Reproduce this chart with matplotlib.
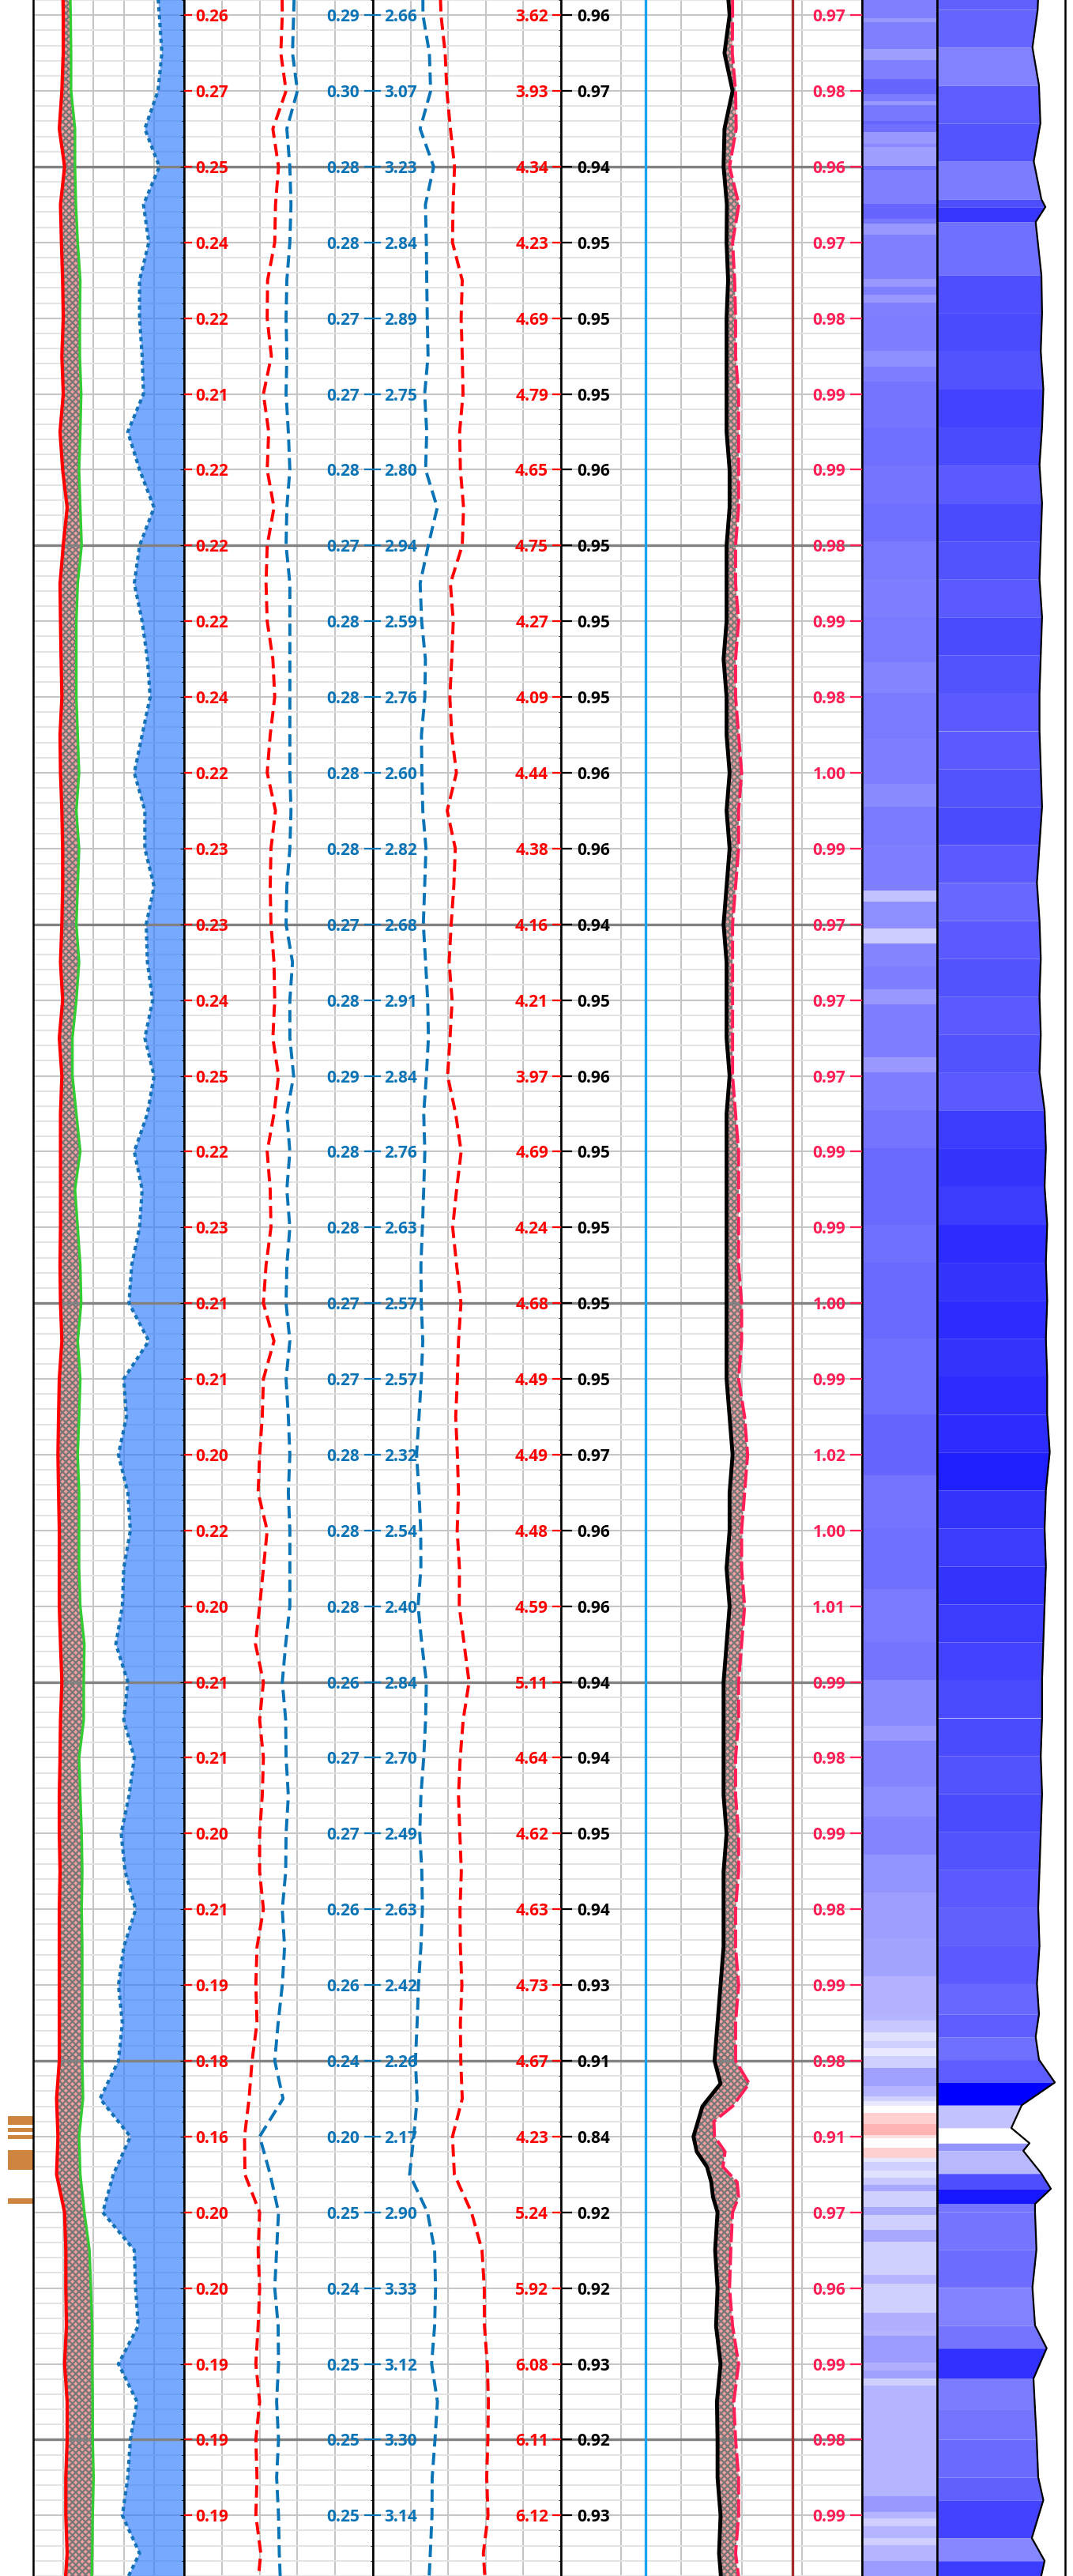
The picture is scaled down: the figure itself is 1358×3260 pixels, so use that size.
import numpy as np
import matplotlib
matplotlib.use("Agg")
import matplotlib.pyplot as plt
from matplotlib import colors

plt.rcParams['font.family'] = ['Open Sans', 'DejaVu Sans']
plt.rcParams['hatch.linewidth'] = 1.6

# depth samples every half unit, labelled depths every unit
depth = np.arange(0.5, 35.01, 0.5)
tick_depth = np.arange(1, 35)
minor_depth = np.arange(0.8, 35.0, 0.2)
top_depth, base_depth = 0.875, 34.8

# track 1 curves (fraction of track width)
t1_red = [0.195, 0.199, 0.199, 0.190, 0.173, 0.208, 0.181, 0.187, 0.195, 0.199,
          0.190, 0.199, 0.178, 0.195, 0.225, 0.199, 0.178, 0.181, 0.185, 0.190,
          0.178, 0.181, 0.190, 0.195, 0.195, 0.190, 0.181, 0.195, 0.173, 0.190,
          0.181, 0.181, 0.181, 0.181, 0.178, 0.181, 0.190, 0.173, 0.168, 0.164,
          0.168, 0.173, 0.173, 0.173, 0.181, 0.190, 0.181, 0.178, 0.173, 0.173,
          0.178, 0.173, 0.173, 0.173, 0.173, 0.173, 0.155, 0.164, 0.155, 0.208,
          0.216, 0.216, 0.220, 0.208, 0.225, 0.225, 0.216, 0.216, 0.225, 0.208]
t1_green = [0.243, 0.248, 0.251, 0.251, 0.277, 0.277, 0.283, 0.295, 0.312, 0.309,
            0.309, 0.318, 0.312, 0.304, 0.312, 0.321, 0.295, 0.286, 0.286, 0.286,
            0.295, 0.304, 0.286, 0.304, 0.295, 0.286, 0.304, 0.286, 0.260, 0.260,
            0.286, 0.312, 0.277, 0.295, 0.312, 0.318, 0.295, 0.312, 0.304, 0.295,
            0.304, 0.304, 0.304, 0.312, 0.339, 0.335, 0.335, 0.304, 0.312, 0.321,
            0.325, 0.321, 0.325, 0.325, 0.325, 0.325, 0.330, 0.304, 0.312, 0.339,
            0.373, 0.382, 0.391, 0.391, 0.394, 0.394, 0.400, 0.394, 0.391, 0.387]
t1_blue = [0.818, 0.836, 0.853, 0.827, 0.740, 0.836, 0.731, 0.766, 0.705, 0.705,
           0.722, 0.731, 0.627, 0.705, 0.801, 0.705, 0.670, 0.722, 0.757, 0.775,
           0.722, 0.670, 0.740, 0.740, 0.801, 0.749, 0.757, 0.792, 0.740, 0.801,
           0.757, 0.670, 0.722, 0.705, 0.653, 0.635, 0.766, 0.600, 0.618, 0.565,
           0.627, 0.644, 0.600, 0.591, 0.548, 0.627, 0.600, 0.670, 0.635, 0.583,
           0.609, 0.679, 0.600, 0.565, 0.591, 0.565, 0.443, 0.644, 0.531, 0.461,
           0.670, 0.679, 0.696, 0.565, 0.688, 0.644, 0.627, 0.591, 0.705, 0.583]

# track 2 curves (scale 0 - 0.5)
t2_red = [0.259, 0.26, 0.256, 0.27, 0.235, 0.25, 0.242, 0.24, 0.221, 0.22,
          0.231, 0.21, 0.224, 0.22, 0.238, 0.22, 0.217, 0.22, 0.235, 0.24,
          0.228, 0.22, 0.242, 0.23, 0.228, 0.23, 0.238, 0.24, 0.235, 0.25,
          0.238, 0.22, 0.228, 0.23, 0.217, 0.21, 0.238, 0.21, 0.207, 0.20,
          0.196, 0.22, 0.210, 0.20, 0.189, 0.21, 0.200, 0.21, 0.207, 0.20,
          0.200, 0.21, 0.193, 0.19, 0.193, 0.18, 0.172, 0.16, 0.161, 0.20,
          0.196, 0.20, 0.196, 0.19, 0.200, 0.19, 0.193, 0.19, 0.203, 0.193]
t2_blue = [0.293, 0.29, 0.287, 0.30, 0.272, 0.28, 0.283, 0.28, 0.272, 0.27,
           0.272, 0.27, 0.276, 0.28, 0.272, 0.27, 0.280, 0.28, 0.280, 0.28,
           0.280, 0.28, 0.283, 0.28, 0.272, 0.27, 0.287, 0.28, 0.280, 0.29,
           0.272, 0.28, 0.272, 0.28, 0.272, 0.27, 0.280, 0.27, 0.276, 0.28,
           0.276, 0.28, 0.280, 0.28, 0.269, 0.26, 0.269, 0.27, 0.276, 0.27,
           0.269, 0.26, 0.266, 0.26, 0.249, 0.24, 0.262, 0.20, 0.228, 0.25,
           0.245, 0.24, 0.249, 0.25, 0.245, 0.25, 0.245, 0.25, 0.252, 0.256]

# track 3 curves (scale 0 - 10)
t3_blue = [2.65, 2.66, 3.00, 3.07, 2.51, 3.23, 2.79, 2.84, 2.86, 2.89,
           2.93, 2.75, 2.86, 2.80, 3.42, 2.94, 2.51, 2.59, 2.79, 2.76,
           2.58, 2.60, 2.65, 2.82, 2.75, 2.68, 2.80, 2.91, 2.95, 2.84,
           2.70, 2.76, 2.70, 2.63, 2.55, 2.57, 2.65, 2.57, 2.45, 2.32,
           2.45, 2.54, 2.55, 2.40, 2.60, 2.84, 2.80, 2.70, 2.55, 2.49,
           2.60, 2.63, 2.55, 2.42, 2.35, 2.26, 2.35, 2.17, 1.95, 2.90,
           3.28, 3.33, 3.28, 3.12, 3.43, 3.30, 3.15, 3.14, 3.05, 2.95]
t3_red = [3.55, 3.62, 3.84, 3.93, 4.12, 4.34, 4.26, 4.23, 4.75, 4.69,
          4.75, 4.79, 4.61, 4.65, 4.82, 4.75, 4.12, 4.27, 4.19, 4.09,
          4.19, 4.44, 3.95, 4.38, 4.30, 4.16, 4.05, 4.21, 4.10, 3.97,
          4.40, 4.69, 4.45, 4.24, 4.45, 4.68, 4.55, 4.49, 4.40, 4.49,
          4.55, 4.48, 4.60, 4.59, 4.85, 5.11, 4.80, 4.64, 4.55, 4.62,
          4.70, 4.63, 4.65, 4.73, 4.65, 4.67, 4.75, 4.23, 4.33, 5.24,
          5.80, 5.92, 5.93, 6.08, 6.14, 6.11, 6.05, 6.12, 5.87, 6.00]

# track 4 curves (scale 0.4 - 1.4), denser samples around the 28-30 event
t4_depth = np.concatenate([np.arange(0.5, 28.01, 0.5),
                           [28.3, 28.6, 28.8, 29.0, 29.2, 29.4, 29.6, 29.8, 30.0],
                           np.arange(30.5, 35.01, 0.5)])
t4_black = [0.95, 0.96, 0.943, 0.97, 0.943, 0.94, 0.951, 0.95, 0.955, 0.95,
            0.95, 0.95, 0.95, 0.96, 0.96, 0.95, 0.95, 0.95, 0.94, 0.95,
            0.95, 0.96, 0.95, 0.96, 0.95, 0.94, 0.95, 0.95, 0.95, 0.96,
            0.95, 0.95, 0.95, 0.95, 0.95, 0.95, 0.95, 0.95, 0.96, 0.97,
            0.96, 0.96, 0.95, 0.96, 0.95, 0.94, 0.94, 0.94, 0.94, 0.95,
            0.94, 0.94, 0.94, 0.93, 0.92, 0.91,
            0.930, 0.87, 0.855, 0.84, 0.851, 0.885, 0.899, 0.905, 0.92,
            0.912, 0.92, 0.915, 0.93, 0.918, 0.92, 0.92, 0.93, 0.925, 0.935]
t4_crimson = [0.97, 0.97, 0.969, 0.98, 0.982, 0.96, 0.991, 0.97, 0.977, 0.98,
              0.98, 0.99, 0.99, 0.99, 0.99, 0.98, 0.98, 0.99, 0.98, 0.98,
              0.99, 1.00, 0.99, 0.99, 0.98, 0.97, 0.97, 0.97, 0.97, 0.97,
              0.98, 0.99, 0.99, 0.99, 0.99, 1.00, 1.00, 0.99, 1.01, 1.02,
              1.01, 1.00, 1.00, 1.01, 1.00, 0.99, 0.99, 0.98, 0.98, 0.99,
              0.99, 0.98, 0.98, 0.99, 0.98, 0.98,
              1.025, 0.97, 0.908, 0.91, 0.945, 0.938, 0.985, 0.99, 0.97,
              0.964, 0.96, 0.97, 0.99, 0.974, 0.98, 0.99, 0.99, 0.98, 0.996]
cut_low, cut_high = 0.68, 1.17

# track 5 colour strip: band tops and values
heat_top = [0.80, 1.11, 1.17, 1.52, 1.67, 1.92, 2.11, 2.21, 2.26, 2.47,
            2.51, 2.61, 2.77, 2.81, 3.06, 3.11, 3.56, 3.76, 3.82, 3.97,
            4.55, 4.65, 4.76, 4.86,
            5.04, 5.5, 5.7, 5.9, 6.5, 7.0, 7.5, 8.0, 8.5, 9.0,
            9.6, 10.0, 10.6, 11.2, 11.5, 12.0, 12.6, 12.75, 13.1, 13.3,
            13.6, 13.9, 14.1, 14.8, 15.0, 15.5, 16.0, 17.0, 17.5, 18.5,
            19.5, 20.3, 21.0, 21.8, 22.5, 23.0, 23.6, 23.8, 24.4, 24.8,
            25.3, 25.8, 26.4, 26.9,
            27.41, 27.48, 27.64, 27.75, 27.85, 27.95, 28.11, 28.35, 28.48, 28.55,
            28.61, 28.70, 28.85, 28.99, 29.04, 29.16, 29.30, 29.35, 29.46, 29.56,
            29.65, 29.73, 29.94, 30.04, 30.24, 30.40, 30.84, 30.95, 31.33,
            31.57, 31.64, 31.99, 32.09, 32.20, 32.29, 33.75, 33.96, 34.04, 34.14,
            34.30, 34.39, 34.60]
heat_val = [0.749, 0.70, 0.749, 0.69, 0.749, 0.80, 0.76, 0.70, 0.765, 0.80,
            0.78, 0.70, 0.73, 0.69, 0.78, 0.749, 0.80, 0.765, 0.70, 0.749,
            0.70, 0.749, 0.70, 0.749,
            0.75, 0.72, 0.75, 0.77, 0.78, 0.77, 0.78, 0.76, 0.75, 0.76,
            0.74, 0.76, 0.75, 0.73, 0.76, 0.75, 0.62, 0.72, 0.60, 0.74,
            0.75, 0.70, 0.75, 0.70, 0.75, 0.77, 0.79, 0.78, 0.79, 0.78,
            0.80, 0.77, 0.78, 0.76, 0.77, 0.73, 0.70, 0.74, 0.72, 0.74,
            0.71, 0.69, 0.68, 0.65,
            0.647, 0.608, 0.561, 0.59, 0.545, 0.592, 0.686, 0.647, 0.592, 0.545,
            0.50, 0.408, 0.353, 0.44, 0.50, 0.408, 0.545, 0.592, 0.561, 0.608,
            0.671, 0.592, 0.671, 0.592, 0.671, 0.592, 0.647, 0.592, 0.655,
            0.647, 0.694, 0.655, 0.686, 0.592, 0.647, 0.70, 0.647, 0.592, 0.647,
            0.592, 0.647, 0.694]

# track 6 curve (fraction of track width)
t6_depth = [0.8, 1.0, 1.5, 2.0, 2.5, 3.0, 3.5, 3.6, 3.8, 4.5,
            5.0, 5.5, 6.0, 6.5, 7.0, 7.5, 8.0, 8.5, 9.0, 9.5,
            10.0, 10.5, 11.0, 11.5, 12.0, 12.5, 13.0, 13.5, 14.0, 14.5,
            15.0, 15.5, 16.0, 16.5, 17.0, 17.5, 18.0, 18.5, 19.0, 19.5,
            20.0, 20.5, 21.0, 21.5, 22.0, 22.5, 23.0, 23.5, 24.0, 24.5,
            25.0, 25.5, 26.0, 26.5, 27.0,
            27.4, 27.7, 28.0, 28.3, 28.6, 28.9, 29.1, 29.2, 29.5, 29.7, 29.9, 30.0,
            30.5, 31.0, 31.5, 31.8, 32.2, 32.6, 33.0, 33.5, 33.8, 34.3, 34.6, 34.9]
t6_curve = [0.79, 0.786, 0.745, 0.796, 0.807, 0.755, 0.815, 0.846, 0.77, 0.815,
            0.82, 0.81, 0.83, 0.82, 0.80, 0.82, 0.81, 0.80, 0.82, 0.81,
            0.80, 0.80, 0.81, 0.82, 0.80, 0.78, 0.80, 0.81, 0.80, 0.81,
            0.80, 0.84, 0.85, 0.84, 0.86, 0.85, 0.86, 0.85, 0.86, 0.86,
            0.88, 0.85, 0.84, 0.85, 0.84, 0.83, 0.82, 0.82, 0.81, 0.82,
            0.81, 0.80, 0.79, 0.80, 0.78,
            0.796, 0.77, 0.796, 0.92, 0.661, 0.58, 0.722, 0.673, 0.815, 0.889, 0.765, 0.765,
            0.776, 0.745, 0.765, 0.856, 0.753, 0.765, 0.778, 0.79, 0.83, 0.74, 0.84, 0.80]

# flagged intervals (left strip)
flag_top = [28.74, 28.90, 28.99, 29.19, 29.83]
flag_base = [28.86, 28.95, 29.05, 29.45, 29.90]

RED = '#FF0000'
BLUE = '#0A74B6'
CRIMSON = '#FF1E56'

W, H = 1358, 3260
fig = plt.figure(figsize=(W / 100, H / 100), dpi=100)
edges = [0, 42, 233, 472, 710, 1091, 1186, 1348]
axs = [fig.add_axes([edges[i] / W, 0, (edges[i + 1] - edges[i]) / W, 1])
       for i in range(7)]


def base_track(ax, xlim):
    ax.set_xlim(xlim)
    ax.set_ylim(base_depth, top_depth)
    ax.set_xticks(np.linspace(xlim[0], xlim[1], 6))
    ax.set_yticks(tick_depth)
    ax.set_yticks(minor_depth, minor=True)
    ax.tick_params(axis='x', length=0, labelbottom=False)
    ax.tick_params(axis='y', which='both', left=False, right=False,
                   labelleft=False, labelright=False)
    ax.grid(True, axis='x', color='#c6c6c6', lw=1.5)
    ax.grid(True, axis='y', which='major', color='#c6c6c6', lw=1.5)
    ax.grid(True, axis='y', which='minor', color='#e4e4e4', lw=1.4)
    for d in tick_depth[2::5]:
        ax.axhline(d, color='#828282', lw=2.4, zorder=1.7)
    for s in ['top', 'bottom']:
        ax.spines[s].set_visible(False)
    for s in ['left', 'right']:
        ax.spines[s].set_linewidth(1.8)


def inner_labels(ax, d, vals, color, side, pad, length):
    # curve value at each labelled depth, drawn inside the track on a twin
    at_ticks = np.interp(tick_depth, d, vals)
    labels = ['{:.2f}'.format(v) for v in at_ticks]
    tgt = ax.twinx()
    tgt.set_ylim(ax.get_ylim())
    for s in tgt.spines.values():
        s.set_visible(False)
    tgt.yaxis.set_ticks_position(side)
    tgt.set_yticks(tick_depth)
    tgt.set_yticks([], minor=True)
    tgt.set_yticklabels(labels, fontsize=15, fontweight='bold', color=color)
    kw = dict(axis='y', which='major', direction='in', length=length,
              width=1.6, color=color, pad=-pad)
    if side == 'left':
        tgt.tick_params(left=True, labelleft=True, right=False, labelright=False, **kw)
        plt.setp(tgt.get_yticklabels(), ha='left')
    else:
        tgt.tick_params(right=True, labelright=True, left=False, labelleft=False, **kw)
        plt.setp(tgt.get_yticklabels(), ha='right')


def hatch_fill(ax, d, left, right):
    ax.fill_betweenx(d, left, right, facecolor='#F4A0A0', edgecolor='#777777',
                     hatch='xxxx', lw=0, zorder=1.6)


# track 0: flags
ax0 = axs[0]
ax0.set_xlim(0, 1)
ax0.set_ylim(base_depth, top_depth)
ax0.barh([(a + b) / 2 for a, b in zip(flag_top, flag_base)],
         0.76, left=0.24, height=[b - a for a, b in zip(flag_top, flag_base)],
         color='#CD853F')
ax0.axis('off')

# track 1
ax1 = axs[1]
base_track(ax1, (0, 1))
hatch_fill(ax1, depth, t1_red, t1_green)
ax1.fill_betweenx(depth, t1_blue, 1, color='#2E7BFF', alpha=0.65, lw=0, zorder=1.6)
ax1.plot(t1_red, depth, color=RED, lw=3)
ax1.plot(t1_green, depth, color='#33CC33', lw=2.4)
ax1.plot(t1_blue, depth, color='#1572B6', lw=3, ls=(0, (1.3, 1.1)))

# track 2
ax2 = axs[2]
base_track(ax2, (0, 0.5))
ax2.plot(t2_red, depth, color=RED, lw=2.8, ls=(0, (4, 2)))
ax2.plot(t2_blue, depth, color=BLUE, lw=2.8, ls=(0, (4, 2)))
inner_labels(ax2, depth, t2_red, RED, 'left', 10.5, 7)
inner_labels(ax2, depth, t2_blue, BLUE, 'right', 12, 8)

# track 3
ax3 = axs[3]
base_track(ax3, (0, 10))
ax3.plot(t3_blue, depth, color=BLUE, lw=2.8, ls=(0, (4, 2)))
ax3.plot(t3_red, depth, color=RED, lw=2.8, ls=(0, (4, 2)))
inner_labels(ax3, depth, t3_blue, BLUE, 'left', 10.5, 7)
inner_labels(ax3, depth, t3_red, RED, 'right', 11.5, 8)

# track 4
ax4 = axs[4]
base_track(ax4, (0.4, 1.4))
ax4.axvline(cut_low, color='#18A4F0', lw=2.4, zorder=1.8)
ax4.axvline(cut_high, color='#A52A2A', lw=2.4, zorder=1.8)
hatch_fill(ax4, t4_depth, t4_black, t4_crimson)
ax4.plot(t4_black, t4_depth, color='black', lw=3.5)
ax4.plot(t4_crimson, t4_depth, color=CRIMSON, lw=2.8, ls=(0, (6, 1.5)))
inner_labels(ax4, t4_depth, t4_black, 'black', 'left', 14.5, 10)
inner_labels(ax4, t4_depth, t4_crimson, CRIMSON, 'right', 15, 11)

# track 5: colour strip
ax5 = axs[5]
ax5.pcolormesh([0, 1], heat_top + [base_depth], np.array(heat_val)[:, None],
               cmap='bwr_r', vmin=0, vmax=1, shading='flat')
ax5.set_xlim(0, 1)
ax5.set_ylim(base_depth, top_depth)
ax5.set_xticks([])
ax5.set_yticks([])

# track 6: colour filled curve
ax6 = axs[6]
norm6 = colors.Normalize(0.24, 0.92)
cmap6 = plt.get_cmap('bwr_r')
for i in range(len(t6_depth) - 1):
    ax6.fill_betweenx(t6_depth[i:i + 2], 0, t6_curve[i:i + 2],
                      color=cmap6(norm6(t6_curve[i])), lw=0)
ax6.plot(t6_curve, t6_depth, color='black', lw=1.6)
ax6.set_xlim(0, 1)
ax6.set_ylim(base_depth, top_depth)
ax6.set_xticks([])
ax6.set_yticks([])

for ax in axs[5:]:
    for s in ['top', 'bottom']:
        ax.spines[s].set_visible(False)
    for s in ['left', 'right']:
        ax.spines[s].set_linewidth(1.8)

fig.savefig('out.png', dpi=100)
